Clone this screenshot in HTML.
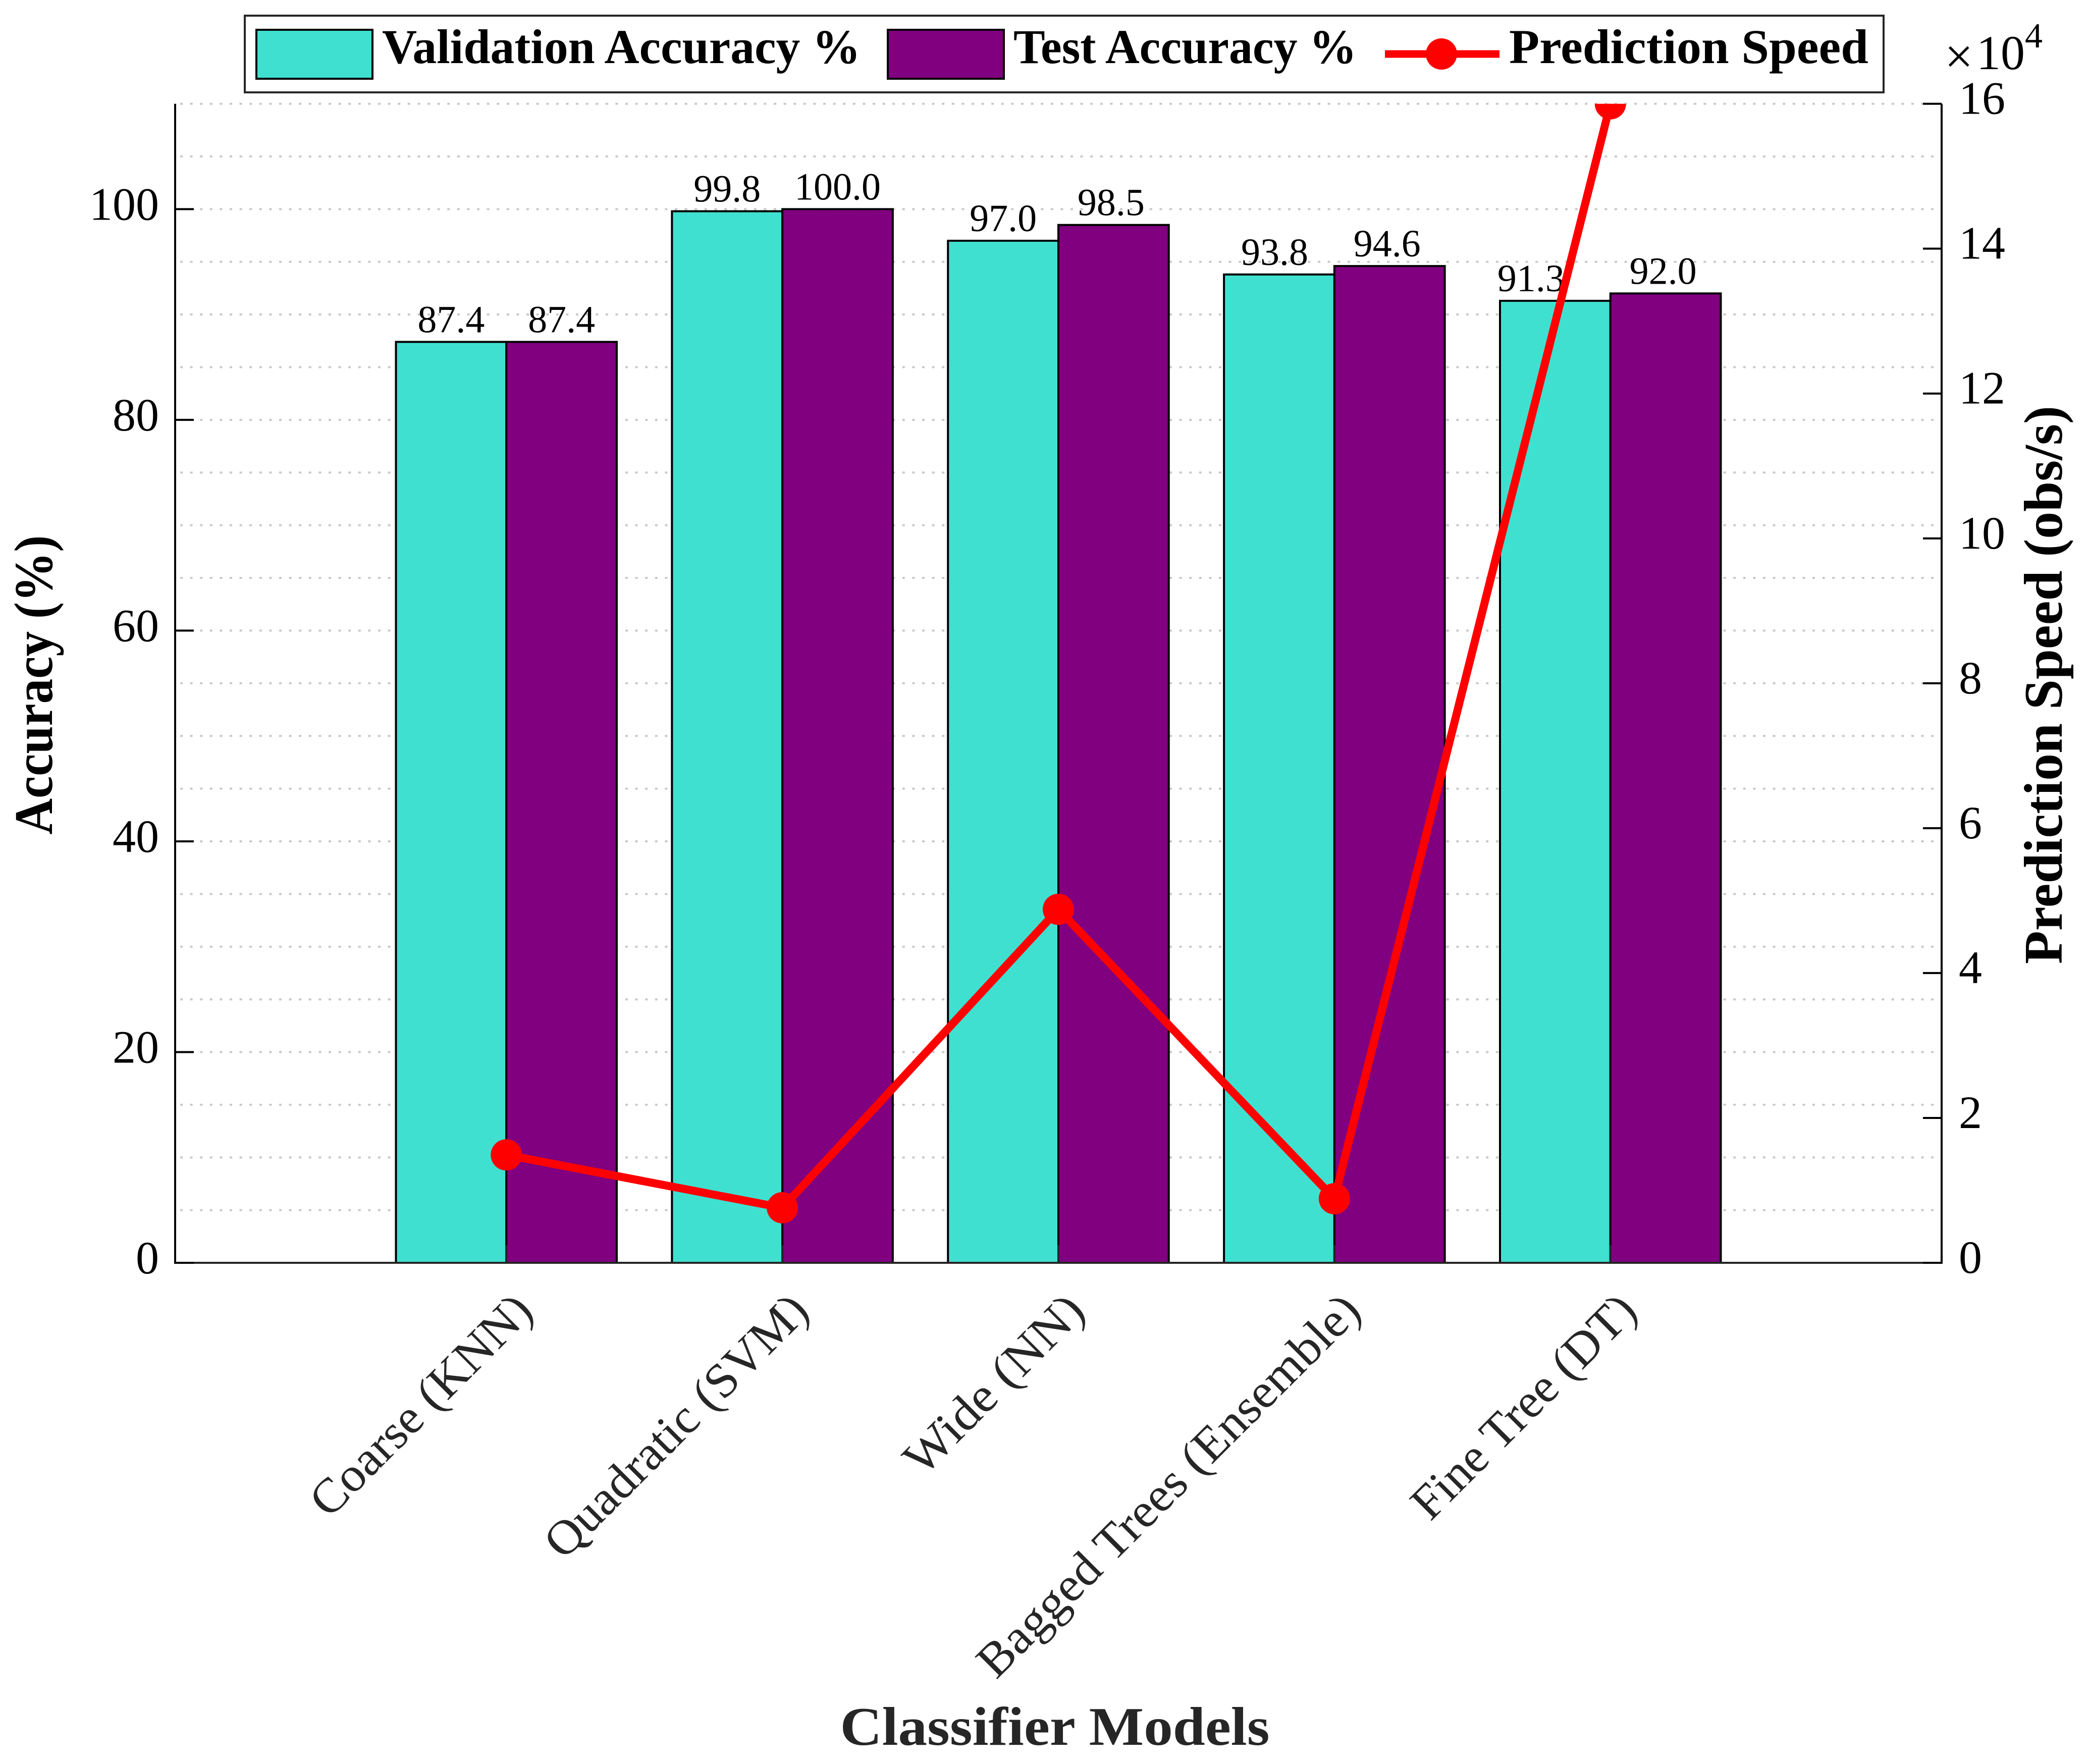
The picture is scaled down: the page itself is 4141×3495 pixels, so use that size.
<!DOCTYPE html>
<html lang="en">
<head>
<meta charset="utf-8">
<title>Classifier Models Chart</title>
<style>
html,body{margin:0;padding:0;background:#fff;}
svg{display:block;}
text{font-family:"Liberation Serif",serif;}
</style>
</head>
<body>
<svg id="chart" xmlns="http://www.w3.org/2000/svg" width="4141" height="3495" viewBox="0 0 4141 3495">
  <defs>
    <clipPath id="plot-clip"><rect x="347" y="205.6" width="3500" height="2296.4"/></clipPath>
  </defs>
  <rect x="0" y="0" width="4141" height="3495" fill="#fff"/>
  <g id="grid"></g>
  <g id="bars"></g>
  <g id="value-labels"></g>
  <g id="axes"></g>
  <g id="line-layer" clip-path="url(#plot-clip)"></g>
  <g id="tick-labels"></g>

  <text transform="translate(103,1357) rotate(-90)" text-anchor="middle" font-size="108" font-weight="bold" textLength="593" lengthAdjust="spacingAndGlyphs" fill="#000">Accuracy (%)</text>
  <text transform="translate(4085,1357) rotate(-90)" text-anchor="middle" font-size="108" font-weight="bold" textLength="1106" lengthAdjust="spacingAndGlyphs" fill="#000">Prediction Speed (obs/s)</text>
  <text x="2090" y="3457" text-anchor="middle" font-size="108" font-weight="bold" textLength="851" lengthAdjust="spacingAndGlyphs" fill="#262626">Classifier Models</text>

  <g>
    <text x="3853" y="145" font-size="100" fill="#000">×</text>
    <text x="3916" y="137" font-size="96" fill="#000">10</text>
    <text x="4012" y="94" font-size="70" fill="#000">4</text>
  </g>

  <g>
    <rect x="485" y="31" width="3247" height="152" fill="#fff" stroke="#262626" stroke-width="4"/>
    <g>
      <rect x="508" y="59" width="230" height="97" fill="#40E0D0" stroke="#000" stroke-width="4"/>
      <text x="757" y="125" font-size="96" font-weight="bold" textLength="948" lengthAdjust="spacingAndGlyphs" fill="#000">Validation Accuracy %</text>
    </g>
    <g>
      <rect x="1759" y="59" width="230" height="97" fill="#800080" stroke="#000" stroke-width="4"/>
      <text x="2008" y="125" font-size="96" font-weight="bold" textLength="680" lengthAdjust="spacingAndGlyphs" fill="#000">Test Accuracy %</text>
    </g>
    <g>
      <line x1="2744" y1="107" x2="2971" y2="107" stroke="#f00" stroke-width="15"/>
      <circle cx="2856" cy="107" r="31" fill="#f00"/>
      <text x="2990" y="125" font-size="96" font-weight="bold" textLength="712" lengthAdjust="spacingAndGlyphs" fill="#000">Prediction Speed</text>
    </g>
  </g>
</svg>
<script>
const categories = ["Coarse (KNN)", "Quadratic (SVM)", "Wide (NN)", "Bagged Trees (Ensemble)", "Fine Tree (DT)"];
const validationAccuracy = [87.4, 99.8, 97.0, 93.8, 91.3];
const testAccuracy = [87.4, 100.0, 98.5, 94.6, 92.0];
const predictionSpeed = [14900, 7600, 48800, 8850, 160000];
const leftTicks = [0, 20, 40, 60, 80, 100];
const rightTicks = [0, 2, 4, 6, 8, 10, 12, 14, 16];
const gridValues = [5, 10, 15, 20, 25, 30, 35, 40, 45, 50, 55, 60, 65, 70, 75, 80, 85, 90, 95, 100, 105, 110];

const NS = "http://www.w3.org/2000/svg";
const plot = {left: 347, right: 3847, top: 205.6, bottom: 2502};
const xMin = -0.2, xMax = 6.2, yMax = 110, speedMax = 160000, barWidth = 0.4;

function xScale(v) { return plot.left + (v - xMin) / (xMax - xMin) * (plot.right - plot.left); }
function yScale(v) { return plot.bottom - v / yMax * (plot.bottom - plot.top); }
function speedScale(v) { return plot.bottom - v / speedMax * (plot.bottom - plot.top); }

function make(parentId, tag, attrs, content) {
  const el = document.createElementNS(NS, tag);
  for (const k in attrs) el.setAttribute(k, attrs[k]);
  if (content !== undefined) el.textContent = content;
  document.getElementById(parentId).appendChild(el);
  return el;
}

/* grid */
gridValues.forEach(function (v) {
  const el = make("grid", "line", {x1: plot.left + 10, x2: plot.right, y1: yScale(v), y2: yScale(v), stroke: "#c8c8c8", "stroke-width": 4, "stroke-dasharray": "5 14.6"});
  
  
});

/* bars and labels */
const seriesList = [validationAccuracy, testAccuracy];
const seriesColors = ["#40E0D0", "#800080"];
const seriesKeys = ["validation", "test"];
seriesList.forEach(function (values, s) {
  values.forEach(function (v, i) {
    const center = i + 1;
    const x0 = xScale(center + (s === 0 ? -barWidth : 0));
    const x1 = xScale(center + (s === 0 ? 0 : barWidth));
    const bar = make("bars", "rect", {x: x0, y: yScale(v), width: x1 - x0, height: plot.bottom - yScale(v), fill: seriesColors[s], stroke: "#000", "stroke-width": 4});
    
    
    const nudge = (s === 0 && i === 4) ? -48 : (s === 0 && i === 3) ? -9 : (s === 1 && i > 1) ? -5 : 0;
    const label = make("value-labels", "text", {x: (x0 + x1) / 2 + nudge, y: yScale(v) - 19, "text-anchor": "middle", "font-size": 76, fill: "#000"}, v.toFixed(1));
    
    
  });
});

/* axis lines */
const leftAxis = make("axes", "line", {x1: plot.left, x2: plot.left, y1: plot.top, y2: plot.bottom + 2, stroke: "#000", "stroke-width": 4});


const rightAxis = make("axes", "line", {x1: plot.right, x2: plot.right, y1: plot.top, y2: plot.bottom + 2, stroke: "#000", "stroke-width": 4});


const bottomAxis = make("axes", "line", {x1: plot.left, x2: plot.right, y1: plot.bottom, y2: plot.bottom, stroke: "#262626", "stroke-width": 4});



/* ticks and tick labels */
leftTicks.forEach(function (v) {
  const t = make("axes", "line", {x1: plot.left, x2: plot.left + 37, y1: yScale(v), y2: yScale(v), stroke: "#000", "stroke-width": 4});
  
  
  const l = make("tick-labels", "text", {x: 315, y: yScale(v) + 21, "text-anchor": "end", "font-size": 92, fill: "#000"}, String(v));
  
  
});
rightTicks.forEach(function (v) {
  const y = speedScale(v * 10000);
  const t = make("axes", "line", {x1: plot.right - 37, x2: plot.right, y1: y, y2: y, stroke: "#000", "stroke-width": 4});
  
  
  const l = make("tick-labels", "text", {x: 3881, y: y + 20, "font-size": 92, fill: "#000"}, String(v));
  
  
});
categories.forEach(function (c, i) {
  const x = xScale(i + 1);
  const t = make("axes", "line", {x1: x, x2: x, y1: plot.bottom - 35, y2: plot.bottom, stroke: "#262626", "stroke-width": 4});
  
  
  const stretch = [1.027, 1.029, 1.07, 1.037, 1.007][i] || 1;
  const l = make("tick-labels", "text", {transform: "translate(" + (x + 57) + "," + (plot.bottom + 100) + ") rotate(-45) scale(" + stretch + ",1)", "text-anchor": "end", "font-size": 96, fill: "#262626"}, c);
  
  
});

/* speed line and markers */
const linePoints = predictionSpeed.map(function (v, i) { return xScale(i + 1) + "," + speedScale(v); }).join(" ");
const speedLine = make("line-layer", "polyline", {points: linePoints, fill: "none", stroke: "#f00", "stroke-width": 16, "stroke-linejoin": "miter"});


predictionSpeed.forEach(function (v, i) {
  const m = make("line-layer", "circle", {cx: xScale(i + 1), cy: speedScale(v), r: 31, fill: "#f00"});
  
  
});
</script>
</body>
</html>
